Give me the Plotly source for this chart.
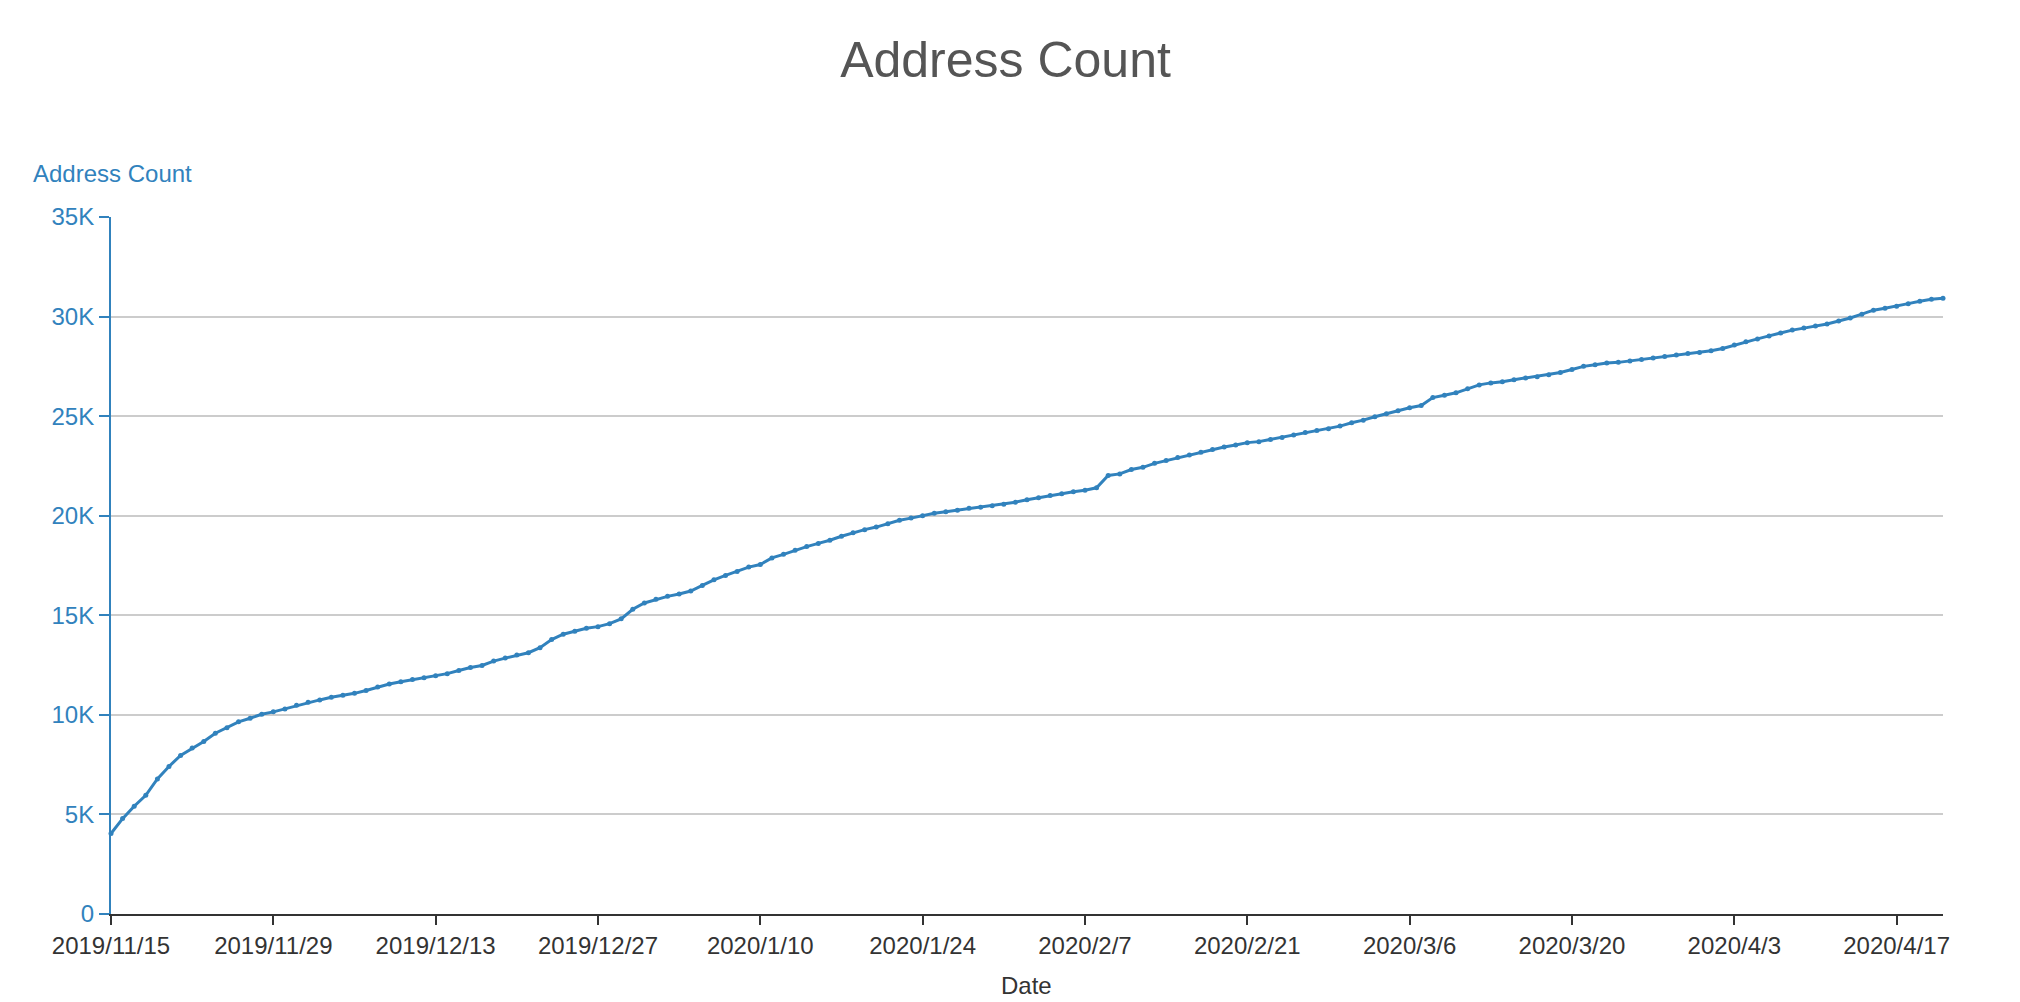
import pandas as pd
import plotly.graph_objects as go

# ---- data ----
start_date = "2019-11-15"
end_date = "2020-04-21"
dates = pd.date_range(start_date, end_date, freq="D")

address_count = [
    4040, 4790, 5410, 5960, 6780, 7410, 7960, 8330, 8660, 9080,
    9350, 9650, 9830, 10030, 10150, 10300, 10480, 10630, 10750, 10880,
    10980, 11080, 11220, 11400, 11550, 11660, 11770, 11860, 11970, 12070,
    12230, 12380, 12480, 12700, 12850, 13000, 13120, 13370, 13780, 14050,
    14200, 14350, 14430, 14580, 14820, 15300, 15620, 15800, 15950, 16070,
    16220, 16500, 16780, 17000, 17200, 17420, 17550, 17880, 18060, 18270,
    18450, 18610, 18770, 18970, 19150, 19300, 19430, 19600, 19770, 19880,
    20000, 20120, 20200, 20280, 20370, 20430, 20500, 20580, 20680, 20800,
    20900, 21020, 21100, 21200, 21280, 21400, 22020, 22100, 22320, 22430,
    22630, 22770, 22920, 23050, 23190, 23320, 23450, 23550, 23670, 23720,
    23830, 23930, 24050, 24180, 24280, 24370, 24500, 24670, 24800, 24970,
    25120, 25270, 25420, 25530, 25930, 26050, 26170, 26370, 26570, 26670,
    26730, 26830, 26920, 26980, 27080, 27190, 27340, 27500, 27580, 27670,
    27700, 27770, 27850, 27920, 28000, 28070, 28150, 28200, 28280, 28400,
    28570, 28730, 28880, 29030, 29180, 29320, 29420, 29530, 29630, 29780,
    29930, 30120, 30320, 30420, 30520, 30650, 30770, 30870, 30920,
]

y_tick_values = [0, 5000, 10000, 15000, 20000, 25000, 30000, 35000]
y_tick_labels = ["0", "5K", "10K", "15K", "20K", "25K", "30K", "35K"]
x_tick_start = "2019-11-15"
x_tick_step_days = 14

chart_title = "Address Count"
y_title = "Address Count"
x_title = "Date"

# ---- style ----
BLUE = "#3182bd"
DARK = "#333333"
FONT = "Liberation Sans, Arial, Helvetica, sans-serif"
W, H = 2020, 1002
ML, MR, MT, MB = 111, 77, 217, 88
PW, PH = W - ML - MR, H - MT - MB

fig = go.Figure()
fig.add_trace(go.Scatter(
    x=dates, y=address_count, mode="lines+markers",
    line=dict(color=BLUE, width=3),
    marker=dict(color=BLUE, size=5),
    cliponaxis=False, name=y_title, showlegend=False,
))

fig.update_layout(
    width=W, height=H,
    margin=dict(l=ML, r=MR, t=MT, b=MB, pad=0, autoexpand=False),
    paper_bgcolor="white", plot_bgcolor="white",
    font=dict(family=FONT, size=24, color=DARK),
    title=dict(text=chart_title, x=1005.5 / W, xanchor="center", xref="container",
               y=1 - 59 / H, yanchor="middle", yref="container",
               font=dict(size=50, color="#555555", family=FONT)),
    xaxis=dict(
        type="date", range=[start_date, end_date],
        tick0=x_tick_start, dtick=x_tick_step_days * 86400000,
        tickformat="%Y/%-m/%-d", automargin=False,
        showgrid=False, zeroline=False,
        showline=True, linecolor=DARK, linewidth=2,
        ticks="outside", ticklen=9, tickwidth=2, tickcolor=DARK,
        tickfont=dict(size=24, color=DARK),
    ),
    yaxis=dict(
        range=[0, 35000], tickvals=y_tick_values, ticktext=y_tick_labels,
        automargin=False,
        showgrid=True, gridcolor="#cccccc", gridwidth=1.5, zeroline=False,
        showline=True, linecolor=BLUE, linewidth=2,
        ticks="outside", ticklen=10, tickwidth=2, tickcolor=BLUE,
        tickfont=dict(size=24, color=BLUE),
    ),
    annotations=[
        dict(text=y_title, xref="paper", yref="paper",
             x=(31 - ML) / PW, y=(MT + PH - 173.5) / PH,
             xanchor="left", yanchor="middle", showarrow=False,
             font=dict(size=24, color=BLUE, family=FONT)),
        dict(text=x_title, xref="paper", yref="paper",
             x=(1026 - ML) / PW, y=(MT + PH - 985.5) / PH,
             xanchor="center", yanchor="middle", showarrow=False,
             font=dict(size=24, color=DARK, family=FONT)),
    ],
)

fig.write_html(
    "out.html",
    config={"displayModeBar": False},
    post_script="document.body.style.margin='0';document.body.style.overflow='hidden';",
)
